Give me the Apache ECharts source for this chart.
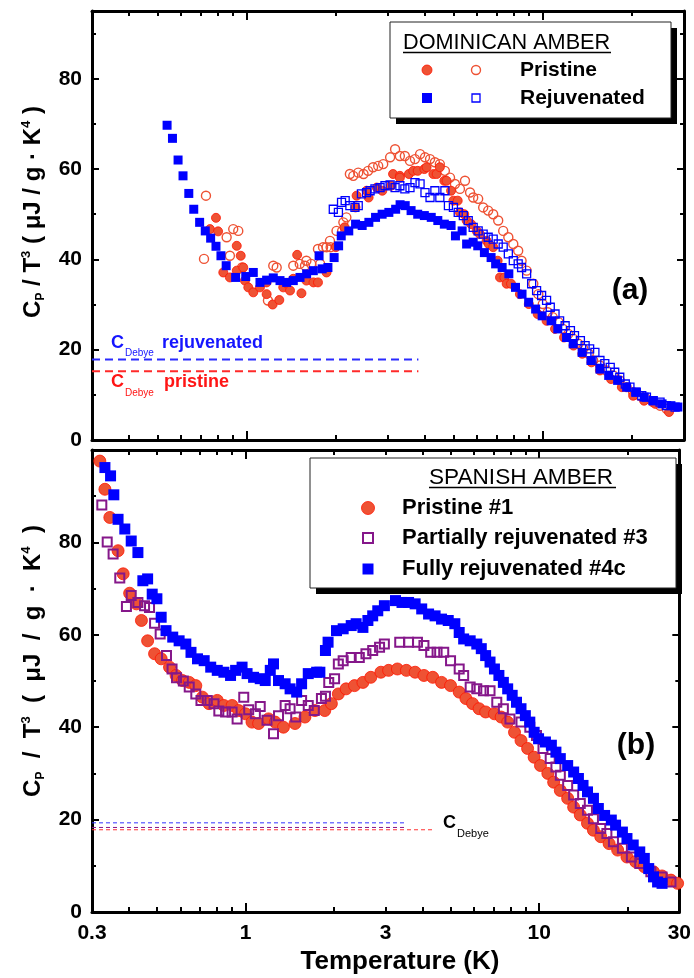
<!DOCTYPE html>
<html><head><meta charset="utf-8">
<script src="https://cdn.jsdelivr.net/npm/echarts@6/dist/echarts.min.js"></script>
<style>html,body{margin:0;padding:0;background:#fff}#c{width:694px;height:978px}</style>
</head><body><div id="c"></div>
<script>
// ---------------- DATA (T in K, Cp/T^3 in uJ/g K^4) ----------------
const xTickLabels = [0.3, 1, 3, 10, 30];
const xDecadeTicks = [1, 10];
const xMinorTicks = [0.4,0.5,0.6,0.7,0.8,0.9,2,3,4,5,6,7,8,9,20,30];
const yTickLabels = [0, 20, 40, 60, 80];
const yMinorTicks = [10, 30, 50, 70, 90];

// (a) Dominican amber
const domPristineOpen = [[0.717,40.1],[0.728,54.1],[0.855,44.9],[0.877,40.8],[0.900,46.7],[0.936,46.3],[0.964,38.2],[1.179,30.9],[1.229,38.6],[1.262,38.2],[1.436,38.6],[1.51,39.0],[1.573,38.6],[1.59,39.7],[1.65,39.0],[1.74,42.3],[1.77,39.0],[1.81,42.7],[1.86,42.7],[1.91,44.1],[1.92,42.7],[2.01,46.3],[2.10,46.3],[2.12,48.2],[2.17,49.3],[2.23,58.9],[2.29,58.5],[2.38,59.2],[2.48,58.9],[2.57,59.6],[2.67,60.4],[2.78,60.7],[2.89,61.1],[3.05,62.6],[3.17,64.4],[3.29,62.9],[3.42,62.9],[3.56,61.8],[3.70,62.2],[3.85,63.3],[4.00,62.6],[4.16,62.2],[4.32,61.5],[4.49,61.1],[4.67,59.6],[4.86,58.1],[5.05,56.7],[5.25,55.6],[5.46,57.4],[5.68,54.8],[5.82,53.7],[6.05,53.4],[6.29,51.5],[6.54,50.8],[6.80,50.0],[7.07,48.6],[7.35,46.3],[7.65,44.9],[7.95,43.4],[8.26,41.9],[8.48,39.7],[8.82,37.5],[9.29,34.6],[9.66,32.3],[10.0,30.1],[10.4,28.3],[10.8,27.2],[11.3,26.1],[11.7,24.6],[12.2,23.5],[12.7,22.4],[13.2,21.3],[13.7,20.2],[14.3,19.1],[14.8,17.6],[15.6,16.5],[16.4,15.4],[17.3,14.3],[18.2,13.2],[19.2,11.7],[20.2,10.6],[21.3,9.8],[22.4,9.1],[23.6,8.4],[24.9,7.6],[26.2,6.9]];
const domPristineFilled = [[0.751,46.7],[0.787,49.2],[0.80,46.2],[0.833,37.1],[0.877,36.0],[0.925,43.0],[0.925,37.5],[0.954,40.8],[0.973,38.2],[0.986,35.3],[1.012,33.8],[1.052,32.7],[1.108,33.8],[1.167,32.3],[1.167,34.9],[1.223,30.0],[1.288,31.0],[1.328,33.8],[1.364,34.7],[1.40,33.1],[1.436,35.7],[1.48,41.0],[1.53,32.5],[1.59,35.3],[1.68,34.9],[1.74,34.9],[1.86,37.1],[2.00,42.7],[2.14,47.1],[2.33,51.5],[2.35,54.1],[2.54,55.2],[2.58,53.7],[2.75,55.9],[2.87,55.2],[3.07,56.3],[3.12,58.9],[3.29,58.5],[3.29,58.1],[3.53,58.9],[3.65,59.6],[3.78,59.6],[3.98,60.0],[4.05,60.4],[4.27,58.9],[4.38,58.9],[4.49,60.4],[4.65,57.4],[4.73,57.4],[4.90,55.2],[4.99,53.0],[5.16,53.0],[5.25,50.4],[5.43,50.0],[5.53,48.6],[5.73,47.8],[5.98,46.3],[6.13,45.6],[6.46,44.1],[6.57,43.4],[6.80,42.7],[7.04,39.7],[7.17,36.0],[7.42,36.0],[7.55,34.6],[7.81,34.6],[8.37,32.3],[8.97,30.1],[9.61,27.9],[10.3,26.4],[11.0,24.6],[11.8,22.7],[12.7,20.9],[13.6,19.1],[14.6,17.2],[15.6,15.4],[17.0,13.5],[18.5,11.7],[20.2,9.8],[22.0,8.7],[24.0,8.0],[26.7,6.2]];
const domRejuvFilled = [[0.538,69.7],[0.561,66.8],[0.586,62.0],[0.609,58.5],[0.637,54.6],[0.662,51.1],[0.693,48.2],[0.724,46.3],[0.755,44.7],[0.787,42.9],[0.818,40.8],[0.852,38.6],[0.917,36.0],[0.992,36.2],[1.052,37.1],[1.108,34.9],[1.167,35.4],[1.229,35.9],[1.295,35.3],[1.364,34.9],[1.436,35.3],[1.513,36.0],[1.593,36.8],[1.678,37.5],[1.755,40.8],[1.798,37.9],[1.880,38.2],[1.973,40.4],[2.043,43.0],[2.085,45.2],[2.211,46.3],[2.331,47.8],[2.454,47.5],[2.585,48.2],[2.723,49.3],[2.866,50.0],[3.020,50.4],[3.184,51.1],[3.296,52.1],[3.43,51.9],[3.59,50.8],[3.78,50.0],[3.98,49.7],[4.20,49.3],[4.42,48.6],[4.65,47.8],[4.90,47.5],[5.07,45.2],[5.34,46.3],[5.53,43.4],[5.82,43.8],[6.03,43.0],[6.35,41.5],[6.69,40.4],[6.93,39.0],[7.29,38.2],[7.68,36.8],[8.09,33.8],[8.51,32.3],[8.96,30.5],[9.46,29.0],[9.95,27.5],[10.67,26.4],[11.24,24.6],[12.03,22.7],[12.67,21.3],[13.58,19.4],[14.55,17.6],[15.6,15.7],[16.7,14.3],[17.9,13.2],[19.2,11.7],[20.6,10.6],[22.0,9.5],[23.6,8.7],[25.3,8.0],[27.1,7.6],[28.6,7.3]];
const domRejuvOpen = [[1.96,51.1],[2.04,50.4],[2.09,52.6],[2.15,53.0],[2.23,51.9],[2.32,51.5],[2.38,51.9],[2.44,54.5],[2.54,54.8],[2.61,55.2],[2.71,55.6],[2.82,55.9],[2.93,56.3],[3.05,56.5],[3.17,55.9],[3.29,56.3],[3.42,55.6],[3.56,55.9],[3.70,57.0],[3.85,56.7],[4.00,54.8],[4.16,53.7],[4.32,55.2],[4.49,53.7],[4.67,55.2],[4.80,51.9],[4.99,51.5],[5.18,50.4],[5.39,49.7],[5.60,48.6],[5.82,47.1],[6.05,46.3],[6.29,45.6],[6.54,44.9],[6.80,44.5],[7.07,43.4],[7.35,42.7],[7.65,41.2],[7.95,39.7],[8.26,39.0],[8.48,38.2],[8.82,36.8],[9.17,34.6],[9.53,33.1],[9.91,32.0],[10.3,30.9],[10.6,29.4],[11.0,27.9],[11.4,26.4],[11.9,25.3],[12.4,24.2],[12.8,23.1],[13.4,22.0],[13.9,20.9],[14.4,20.2],[15.0,19.4],[15.6,17.6],[16.2,16.9],[16.9,16.1],[17.5,15.0],[18.2,13.9],[19.0,12.4],[19.7,11.7],[20.7,10.6],[21.6,9.8],[22.4,9.5],[23.6,8.7],[24.9,8.4],[26.2,7.6],[28.0,7.3]];
const domDebyeRejuv = 17.8, domDebyePristine = 15.2, domDebyeEnd = 3.8;

// (b) Spanish amber
const spPristine1 = [[0.319,97.6],[0.332,91.5],[0.345,85.4],[0.368,78.2],[0.383,73.2],[0.403,69.0],[0.425,66.7],[0.442,63.1],[0.464,58.7],[0.490,55.9],[0.516,54.8],[0.551,53.0],[0.580,51.2],[0.610,50.1],[0.643,49.7],[0.677,49.0],[0.713,46.5],[0.751,45.1],[0.801,45.8],[0.844,44.7],[0.900,44.7],[0.948,43.6],[1.000,42.9],[1.052,41.1],[1.108,40.8],[1.197,41.8],[1.262,41.1],[1.346,40.0],[1.474,40.8],[1.593,42.2],[1.722,43.6],[1.861,43.6],[1.96,45.1],[2.07,47.2],[2.20,48.3],[2.35,49.0],[2.51,49.7],[2.67,50.8],[2.89,51.9],[3.07,52.3],[3.29,52.6],[3.53,52.3],[3.78,51.9],[4.05,51.2],[4.34,50.8],[4.65,49.7],[4.99,49.0],[5.34,47.6],[5.63,46.2],[5.93,45.1],[6.24,44.0],[6.57,43.3],[7.04,42.9],[7.42,42.2],[7.81,41.1],[8.24,38.9],[8.67,37.1],[9.13,35.4],[9.61,33.5],[10.1,31.7],[10.7,30.0],[11.2,28.1],[11.8,26.3],[12.5,24.6],[13.1,22.7],[13.8,21.0],[14.6,19.2],[15.3,17.7],[16.2,16.3],[17.3,14.8],[18.5,13.4],[19.9,11.9],[21.3,10.9],[22.8,9.8],[24.5,8.7],[26.2,7.8],[28.1,6.9],[29.6,6.2]];
const spPartial3 = [[0.324,88.1],[0.338,80.1],[0.354,77.5],[0.373,72.3],[0.393,66.1],[0.408,68.5],[0.430,67.0],[0.453,66.3],[0.471,65.9],[0.490,62.5],[0.512,60.2],[0.538,55.5],[0.562,52.6],[0.582,50.7],[0.614,50.0],[0.643,48.7],[0.677,47.2],[0.705,45.8],[0.741,45.8],[0.781,45.1],[0.811,43.5],[0.855,43.3],[0.900,43.3],[0.936,41.8],[0.986,46.5],[1.025,43.8],[1.080,42.9],[1.122,44.5],[1.183,41.5],[1.245,38.6],[1.295,42.5],[1.364,44.7],[1.418,44.0],[1.482,42.2],[1.552,45.8],[1.635,44.7],[1.714,43.6],[1.813,46.2],[1.871,46.7],[1.920,49.7],[2.01,50.5],[2.07,53.7],[2.15,54.4],[2.29,55.1],[2.44,55.1],[2.57,55.9],[2.71,56.6],[2.86,57.3],[2.97,58.0],[3.35,58.4],[3.59,58.4],[3.85,58.4],[4.05,57.7],[4.27,56.2],[4.49,56.2],[4.73,56.2],[4.99,54.4],[5.34,52.6],[5.53,51.2],[5.82,48.7],[6.13,48.3],[6.46,47.9],[6.80,47.9],[7.17,45.4],[7.55,44.0],[7.95,41.8],[8.67,41.1],[9.29,40.0],[9.79,38.2],[10.3,35.4],[10.9,33.2],[11.4,31.4],[11.8,29.6],[12.5,27.4],[13.1,25.3],[13.8,23.5],[14.6,22.0],[15.3,20.2],[16.2,18.1],[17.0,17.0],[17.9,15.2],[19.2,13.8],[20.6,11.9],[22.0,10.5],[24.0,8.7],[26.2,7.6],[28.1,6.5]];
const spFully4c = [[0.332,96.2],[0.347,94.4],[0.356,90.3],[0.368,85.0],[0.388,82.9],[0.408,80.3],[0.430,77.8],[0.447,71.7],[0.464,72.1],[0.481,68.8],[0.499,67.8],[0.516,63.8],[0.536,60.9],[0.565,59.5],[0.594,58.7],[0.626,58.0],[0.652,56.2],[0.686,54.8],[0.723,54.4],[0.761,53.0],[0.801,52.3],[0.844,51.9],[0.889,51.2],[0.925,52.3],[0.973,53.0],[1.012,51.6],[1.065,50.8],[1.122,50.5],[1.167,50.1],[1.214,52.3],[1.245,53.7],[1.295,50.1],[1.364,49.4],[1.418,48.3],[1.493,47.6],[1.552,49.4],[1.635,51.6],[1.746,51.9],[1.791,51.9],[1.871,56.6],[1.910,58.4],[2.04,60.9],[2.15,61.3],[2.29,62.0],[2.38,62.4],[2.51,61.6],[2.61,63.1],[2.71,64.1],[2.82,65.2],[2.97,66.3],[3.24,67.4],[3.41,67.0],[3.59,67.0],[3.78,66.7],[3.98,65.6],[4.20,64.5],[4.42,64.1],[4.65,63.4],[4.90,63.1],[5.16,62.4],[5.34,60.5],[5.53,59.1],[5.82,58.7],[6.13,58.0],[6.35,57.0],[6.57,55.5],[6.80,54.1],[7.04,52.6],[7.29,51.2],[7.55,49.7],[7.81,48.3],[8.09,46.9],[8.37,45.4],[8.67,44.0],[8.97,42.5],[9.29,41.1],[9.61,38.9],[9.95,37.5],[10.5,36.8],[11.0,36.1],[11.4,34.6],[11.8,33.2],[12.5,31.7],[13.1,30.3],[13.6,28.9],[14.1,27.4],[14.6,26.0],[15.3,24.6],[15.9,22.4],[16.7,20.9],[17.6,19.9],[18.2,18.8],[19.2,17.3],[19.9,15.9],[20.9,14.5],[22.0,13.0],[22.8,11.6],[23.6,9.4],[24.5,7.6],[25.3,6.5],[26.2,6.2]];
const spDebyeFully = 19.3, spDebyePartial = 18.3, spDebyePristine = 17.8;
const spDebyeEndShort = 3.5, spDebyeEndLong = 4.4;

// ---------------- CHART ----------------
const FONT = "'Liberation Sans', Arial, Helvetica, sans-serif";
const L = Math.log10;
const LMIN = L(0.3), LMAX = L(30);
const RED = '#ee5234', REDLINE = '#ff1500', BLUE = '#0000ff', PURPLE = '#85178a';

function xDeco(g, pos, vals, len, showLine, labels) {
  return {type:'value', gridIndex:g, position:pos, min:LMIN, max:LMAX,
    axisLine:{show:showLine, onZero:false, lineStyle:{color:'#000', width:3}},
    axisTick:{show:true, inside:true, length:len, lineStyle:{color:'#000', width:2}, customValues: vals.map(L)},
    axisLabel: labels ? {show:true, customValues: labels.map(L), margin:11,
      formatter: v => String(+Math.pow(10, v).toPrecision(3)),
      color:'#000', fontSize:21, fontWeight:'bold', fontFamily:FONT} : {show:false},
    splitLine:{show:false}, minorTick:{show:false}};
}
function yDeco(g, pos, max, vals, len, showLine, labels) {
  return {type:'value', gridIndex:g, position:pos, min:0, max:max,
    axisLine:{show:showLine, onZero:false, lineStyle:{color:'#000', width:3}},
    axisTick:{show:true, inside:true, length:len, lineStyle:{color:'#000', width:2}, customValues: vals},
    axisLabel: labels ? {show:true, customValues: labels, margin:10,
      color:'#000', fontSize:21, fontWeight:'bold', fontFamily:FONT} : {show:false},
    splitLine:{show:false}, minorTick:{show:false}};
}
const xAxes = [], yAxes = [];
[[0, false], [1, true]].forEach(([g, lab]) => {
  xAxes.push({type:'log', logBase:10, gridIndex:g, min:0.3, max:30, show:false});
  xAxes.push(xDeco(g, 'bottom', xDecadeTicks, 9, true, lab ? xTickLabels : null));
  xAxes.push(xDeco(g, 'bottom', xMinorTicks, 5, false, null));
  xAxes.push(xDeco(g, 'top', xDecadeTicks, 9, true, null));
  xAxes.push(xDeco(g, 'top', xMinorTicks, 5, false, null));
});
[[0, 95], [1, 100]].forEach(([g, mx]) => {
  yAxes.push(yDeco(g, 'left', mx, yTickLabels, 7, true, yTickLabels));
  yAxes.push(yDeco(g, 'left', mx, yMinorTicks, 4, false, null));
  yAxes.push(yDeco(g, 'right', mx, yTickLabels, 7, true, null));
  yAxes.push(yDeco(g, 'right', mx, yMinorTicks, 4, false, null));
});

function sc(name, g, data, symbol, size, fill, stroke, bw) {
  return {type:'scatter', name, xAxisIndex: g*5, yAxisIndex: g*4, data, symbol, symbolSize: size,
    silent:true, animation:false,
    itemStyle:{color: fill, borderColor: stroke, borderWidth: bw, opacity:1}};
}
function dl(g, y, end, color, width, dash) {
  return {type:'line', xAxisIndex:g*5, yAxisIndex:g*4, data:[[0.3, y],[end, y]], showSymbol:false, symbol:'none',
    silent:true, animation:false, lineStyle:{color, width, type:dash}};
}
const series = [
  dl(0, domDebyeRejuv, domDebyeEnd, '#2a2aff', 2, [8,5]),
  dl(0, domDebyePristine, domDebyeEnd, '#ff2a2a', 2, [8,5]),
  sc('Pristine open', 0, domPristineOpen, 'circle', 9, 'rgba(255,255,255,0)', RED, 1.4),
  sc('Pristine', 0, domPristineFilled, 'circle', 9, RED, REDLINE, 0.8),
  sc('Rejuvenated', 0, domRejuvFilled, 'rect', 9, BLUE, BLUE, 0),
  sc('Rejuvenated open', 0, domRejuvOpen, 'rect', 8, 'rgba(255,255,255,0)', BLUE, 1.3),
  dl(1, spDebyeFully, spDebyeEndShort, '#3333ff', 1, [4,3]),
  dl(1, spDebyePartial, spDebyeEndShort, PURPLE, 1, [4,3]),
  dl(1, spDebyePristine, spDebyeEndLong, '#ff3333', 1, [4,3]),
  sc('Pristine #1', 1, spPristine1, 'circle', 12, RED, REDLINE, 0.8),
  sc('Partially rejuvenated #3', 1, spPartial3, 'rect', 9, 'rgba(255,255,255,0)', PURPLE, 2),
  sc('Fully rejuvenated #4c', 1, spFully4c, 'rect', 11, BLUE, BLUE, 0)
];

function txt(x, y, text, size, weight, color, align, extra) {
  return Object.assign({type:'text', x, y, silent:true, z:100,
    style:{text, font: weight + ' ' + size + 'px ' + FONT, fill: color, align: align || 'left', verticalAlign:'middle'}}, extra || {});
}
const yTitleRich = {
  c:{fontSize:24, fontWeight:'bold', fontFamily:FONT, fill:'#000'},
  s:{fontSize:12, fontWeight:'bold', fontFamily:FONT, fill:'#000', padding:[16,0,0,0]},
  u:{fontSize:13, fontWeight:'bold', fontFamily:FONT, fill:'#000', padding:[0,0,14,0]}
};
function yTitle(y, sp) {
  return {type:'text', x:33, y, rotation:Math.PI/2, silent:true, z:100,
    style:{text:'{c|C}{s|P}{c|' + sp + '/' + sp + 'T}{u|3}{c|' + sp + '(' + sp + 'μJ' + sp + '/' + sp + 'g' + sp + '·' + sp + 'K}{u|4}{c|' + sp + ')}',
      rich: yTitleRich, align:'center', verticalAlign:'middle'}};
}
function legendBox(x, y, w, h) {
  return [
    {type:'rect', shape:{x:x+6, y:y+6, width:w, height:h}, style:{fill:'#000'}, z:90, silent:true},
    {type:'rect', shape:{x, y, width:w, height:h}, style:{fill:'#fff', stroke:'#222', lineWidth:1}, z:91, silent:true}
  ];
}
const graphic = [
  yTitle(212, ' '),
  yTitle(661, '  '),
  txt(400, 962, 'Temperature (K)', 26, 'bold', '#000', 'center'),
  txt(630, 291, '(a)', 30, 'bold', '#000', 'center'),
  txt(636, 746, '(b)', 30, 'bold', '#000', 'center'),
  // C_Debye labels (a)
  txt(111, 343, 'C', 18, 'bold', '#1515ff'),
  txt(125, 353, 'Debye', 10, 'normal', '#1515ff'),
  txt(162, 343, 'rejuvenated', 18, 'bold', '#1515ff'),
  txt(111, 382, 'C', 18, 'bold', '#ff1515'),
  txt(125, 393, 'Debye', 10, 'normal', '#ff1515'),
  txt(164, 382, 'pristine', 18, 'bold', '#ff1515'),
  // C_Debye label (b)
  txt(443, 823, 'C', 18, 'bold', '#000'),
  txt(457, 834, 'Debye', 11, 'normal', '#000'),
  // legend (a)
  ...legendBox(390, 22, 281, 96),
  txt(403, 43, 'DOMINICAN AMBER', 21.7, 'normal', '#000', 'left', {z:95}),
  {type:'line', shape:{x1:403, y1:52.5, x2:611, y2:52.5}, style:{stroke:'#000', lineWidth:1.5}, z:95, silent:true},
  {type:'circle', shape:{cx:427, cy:70, r:5}, style:{fill:RED, stroke:REDLINE, lineWidth:0.8}, z:95, silent:true},
  {type:'circle', shape:{cx:476, cy:70, r:4.5}, style:{fill:'none', stroke:RED, lineWidth:1.4}, z:95, silent:true},
  {type:'rect', shape:{x:422, y:93, width:10, height:10}, style:{fill:BLUE}, z:95, silent:true},
  {type:'rect', shape:{x:472, y:94, width:8, height:8}, style:{fill:'none', stroke:BLUE, lineWidth:1.3}, z:95, silent:true},
  txt(520, 70, 'Pristine', 21, 'bold', '#000', 'left', {z:95}),
  txt(520, 98, 'Rejuvenated', 21, 'bold', '#000', 'left', {z:95}),
  // legend (b)
  ...legendBox(310, 458, 366, 130),
  txt(429, 478, 'SPANISH AMBER', 22.6, 'normal', '#000', 'left', {z:95}),
  {type:'line', shape:{x1:429, y1:487.5, x2:616, y2:487.5}, style:{stroke:'#000', lineWidth:1.5}, z:95, silent:true},
  {type:'circle', shape:{cx:368, cy:508, r:6.5}, style:{fill:RED, stroke:REDLINE, lineWidth:0.8}, z:95, silent:true},
  {type:'rect', shape:{x:363, y:533, width:10, height:10}, style:{fill:'none', stroke:PURPLE, lineWidth:2}, z:95, silent:true},
  {type:'rect', shape:{x:362.5, y:563.5, width:11, height:11}, style:{fill:BLUE}, z:95, silent:true},
  txt(402, 508, 'Pristine #1', 22, 'bold', '#000', 'left', {z:95}),
  txt(402, 538, 'Partially rejuvenated #3', 22, 'bold', '#000', 'left', {z:95}),
  txt(402, 569, 'Fully rejuvenated #4c', 22, 'bold', '#000', 'left', {z:95})
];

const chart = echarts.init(document.getElementById('c'), null, {renderer:'canvas'});
chart.setOption({
  animation:false,
  backgroundColor:'#fff',
  grid:[
    {left:92, right:10, top:11, height:429},
    {left:92, right:10, top:450, height:462}
  ],
  xAxis:xAxes,
  yAxis:yAxes,
  series,
  graphic
});
</script></body></html>
